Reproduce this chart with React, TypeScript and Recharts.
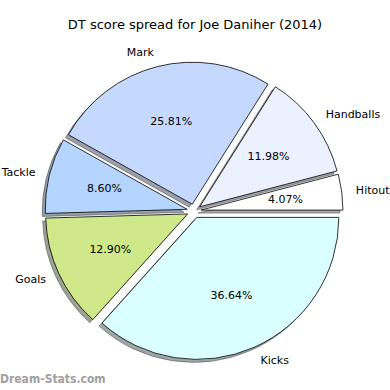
import { PieChart, Pie, Sector } from 'recharts';

// slice order follows the original (counter-clockwise from 3 o'clock)
const categories = ['Hitout', 'Handballs', 'Mark', 'Tackle', 'Goals', 'Kicks'];
const shares = [4.07, 11.98, 25.81, 8.6, 12.9, 36.64];
const sliceColors = ['#ffffff', '#ebf1ff', '#c5d9ff', '#b3d5ff', '#cfe98a', '#d9ffff'];

const data = categories.map((name, i) => ({ name, value: shares[i] }));

const RADIAN = Math.PI / 180;
const EXPLODE = 7;
const SHADOW_OFFSET = 3;
const FONT = '"DejaVu Sans", Verdana, sans-serif';

// matplotlib-style shadow: colour scaled by 0.3
function darken(hex: string) {
    const n = parseInt(hex.slice(1), 16);
    const r = Math.round(((n >> 16) & 255) * 0.3);
    const g = Math.round(((n >> 8) & 255) * 0.3);
    const b = Math.round((n & 255) * 0.3);
    return `rgb(${r},${g},${b})`;
}

function shifted(props: any) {
    const ux = Math.cos(-props.midAngle * RADIAN);
    const uy = Math.sin(-props.midAngle * RADIAN);
    return { x: props.cx + EXPLODE * ux, y: props.cy + EXPLODE * uy };
}

function renderShadow(props: any) {
    const { x, y } = shifted(props);
    const c = darken(sliceColors[props.index]);
    return (
        <Sector
            key={`shadow-${props.index}`}
            cx={x - SHADOW_OFFSET}
            cy={y + SHADOW_OFFSET}
            innerRadius={0}
            outerRadius={props.outerRadius}
            startAngle={props.startAngle}
            endAngle={props.endAngle}
            fill={c}
            fillOpacity={0.5}
            stroke={c}
            strokeOpacity={0.5}
            strokeWidth={1}
        />
    );
}

function renderSlice(props: any) {
    const { outerRadius, midAngle, index, name, percent } = props;
    const { x, y } = shifted(props);
    const cos = Math.cos(-midAngle * RADIAN);
    const sin = Math.sin(-midAngle * RADIAN);
    const px = x + outerRadius * 0.6 * cos;
    const py = y + outerRadius * 0.6 * sin;
    const lx = x + outerRadius * 1.1 * cos;
    const ly = y + outerRadius * 1.1 * sin;
    return (
        <g key={`slice-${index}`}>
            <Sector
                cx={x}
                cy={y}
                innerRadius={0}
                outerRadius={outerRadius}
                startAngle={props.startAngle}
                endAngle={props.endAngle}
                fill={sliceColors[index]}
                stroke="#000"
                strokeWidth={0.8}
            />
            <text x={px} y={py} textAnchor="middle" dominantBaseline="central" fontSize={11} fontFamily={FONT} fill="#000">
                {`${(percent * 100).toFixed(2)}%`}
            </text>
            <text x={lx} y={ly} textAnchor={cos > 0 ? 'start' : 'end'} dominantBaseline="central" fontSize={11} fontFamily={FONT} fill="#000">
                {name}
            </text>
        </g>
    );
}

export default function App() {
    return (
        <div style={{ position: 'absolute', left: 0, top: 0, width: 390, height: 390, background: '#fff' }}>
            <div style={{ position: 'absolute', left: 0, top: 17, width: 390, textAlign: 'center', fontFamily: FONT, fontSize: 13, lineHeight: '16px', color: '#000' }}>
                DT score spread for Joe Daniher (2014)
            </div>
            <PieChart width={390} height={390} margin={{ top: 0, right: 0, bottom: 0, left: 0 }}>
                <Pie
                    data={data}
                    dataKey="value"
                    nameKey="name"
                    cx={194}
                    cy={211}
                    outerRadius={142}
                    startAngle={0}
                    endAngle={360}
                    fill="transparent"
                    stroke="none"
                    label={renderShadow}
                    labelLine={false}
                    isAnimationActive={false}
                />
                <Pie
                    data={data}
                    dataKey="value"
                    nameKey="name"
                    cx={194}
                    cy={211}
                    outerRadius={142}
                    startAngle={0}
                    endAngle={360}
                    fill="transparent"
                    stroke="none"
                    label={renderSlice}
                    labelLine={false}
                    isAnimationActive={false}
                />
            </PieChart>
            <div style={{ position: 'absolute', left: 0, top: 371, fontFamily: '"DejaVu Sans Condensed", "DejaVu Sans", sans-serif', fontWeight: 'bold', fontSize: 12, lineHeight: '16px', color: '#a0a0a0' }}>
                Dream-Stats.com
            </div>
        </div>
    );
}
